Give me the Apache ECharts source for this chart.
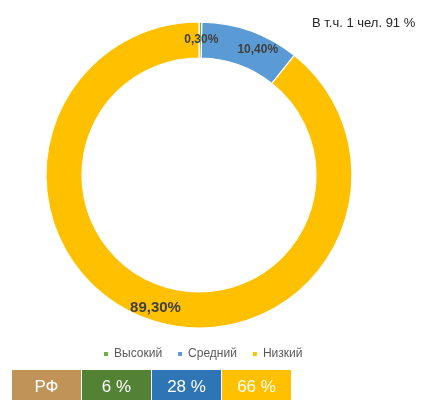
<!DOCTYPE html>
<html><head><meta charset="utf-8">
<script src="https://cdn.jsdelivr.net/npm/echarts@6/dist/echarts.min.js"></script>
<style>html,body{margin:0;padding:0;background:#fff}#c{width:421px;height:400px}</style>
</head><body><div id="c"></div>
<script>
var categories = ['Высокий', 'Средний', 'Низкий'];
var values = [0.3, 10.4, 89.3];
var labelsText = ['0,30%', '10,40%', '89,30%'];
var sliceColors = ['#70AD47', '#5B9BD5', '#FFC000'];
var noteText = 'В т.ч. 1 чел. 91 %';
var tableLabels = ['РФ', '6 %', '28 %', '66 %'];
var tableColors = ['#C09458', '#548235', '#2E75B6', '#FFC000'];

var font = '"Liberation Sans", Arial, sans-serif';
var chart = echarts.init(document.getElementById('c'), null, {renderer: 'canvas'});

var graphics = [{
  type: 'text', left: 312, top: 17,
  style: {text: noteText, font: '13px ' + font, fill: '#262626'}
}];
tableLabels.forEach(function (t, i) {
  graphics.push({
    type: 'group', left: 12 + i * 70, top: 370,
    children: [
      {type: 'rect', shape: {x: 0, y: 0, width: 69, height: 32}, style: {fill: tableColors[i]}},
      {type: 'text', style: {text: t, x: 34.5, y: 17, textAlign: 'center', textVerticalAlign: 'middle', font: '17px ' + font, fill: '#ffffff'}}
    ]
  });
});

chart.setOption({
  animation: false,
  textStyle: {fontFamily: font},
  legend: {
    data: categories, left: 97, top: 343, icon: 'rect', itemWidth: 6, itemHeight: 6, itemGap: 14,
    textStyle: {fontSize: 12, color: '#595959', fontFamily: font}
  },
  graphic: graphics,
  series: [{
    type: 'pie', center: [199, 175], radius: [117, 153], startAngle: 90, clockwise: true,
    avoidLabelOverlap: false,
    itemStyle: {borderColor: '#ffffff', borderWidth: 1.2},
    label: {show: true, position: 'inside', color: '#404040', fontWeight: 'bold', fontSize: 12, fontFamily: font,
      formatter: function (p) { return labelsText[p.dataIndex]; }},
    labelLine: {show: false},
    data: categories.map(function (c, i) {
      var d = {name: c, value: values[i], itemStyle: {color: sliceColors[i]}};
      if (i === 0) d.label = {offset: [1, 3]};
      if (i === 1) d.label = {offset: [12, 5]};
      if (i === 2) d.label = {fontSize: 15, offset: [2, 3]};
      return d;
    })
  }]
});
</script></body></html>
